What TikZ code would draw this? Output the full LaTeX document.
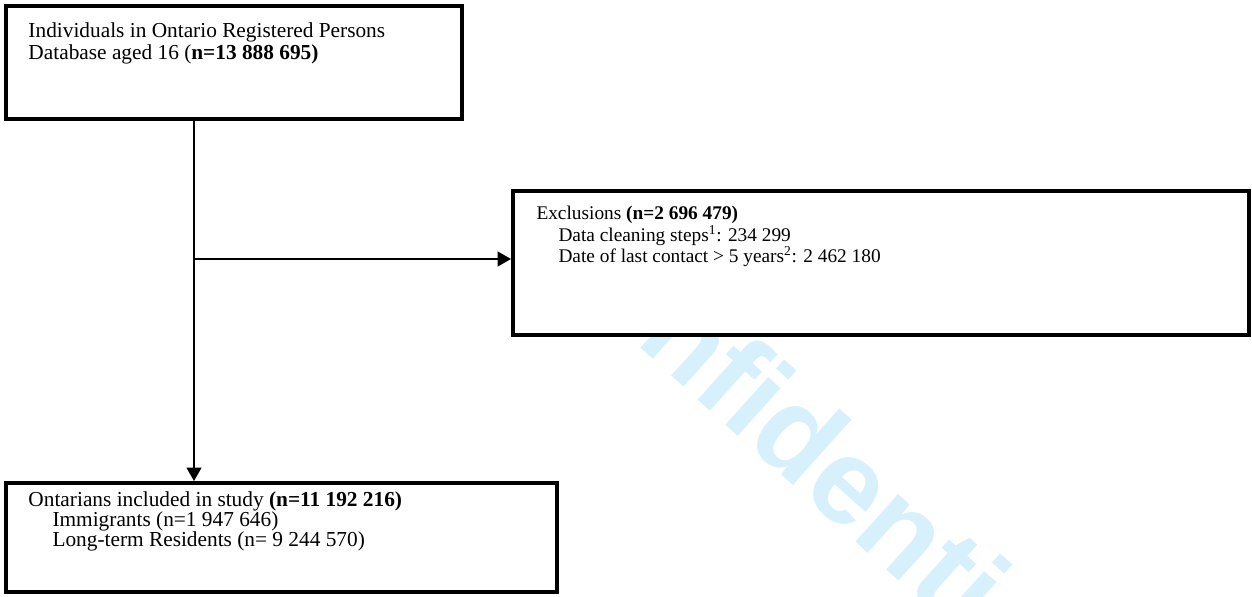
\documentclass[tikz,border=0pt]{standalone}
\usepackage{fontspec}
\setmainfont{Liberation Serif}
\newfontfamily\markfont{Liberation Sans}
\usetikzlibrary{arrows.meta}
\definecolor{markblue}{RGB}{214,240,252}
\tikzset{every picture/.style={line width=0.75pt}}
\tikzset{
  flowbox/.style={draw, fill=white, line width=3pt, inner sep=0pt},
  boxtext/.style={anchor=north west, inner sep=0pt, align=left},
  flow/.style={line width=1.5pt, -{Triangle[length=10pt,width=11pt]}},
}

\begin{document}
\begin{tikzpicture}[x=0.75pt,y=0.75pt,yscale=-1,xscale=1]
\useasboundingbox (0,0) rectangle (1252,596);

% Watermark
\node [markblue, rotate=-42, anchor=base west, inner sep=0pt, font=\markfont\bfseries\fontsize{91}{91}\selectfont] (mark) at (514,234) {Confidential: For Review Only};

%Shape: Rectangle [RPDB]
\node [flowbox, minimum width=342pt, minimum height=84.75pt] (rpdb) at (234,62) {};
%Shape: Rectangle [exclusions]
\node [flowbox, minimum width=552pt, minimum height=108pt] (excl) at (881,263) {};
%Shape: Rectangle [study cohort]
\node [flowbox, minimum width=413.25pt, minimum height=81.75pt] (study) at (281.5,537.5) {};

% Text Node
\node [boxtext, font=\fontsize{16}{17}\selectfont] (rpdbtext) at (28,22) {Individuals in Ontario Registered Persons\\Database aged 16 (\textbf{n=13 888 695)}};
% Text Node
\node [boxtext, font=\fontsize{14.5}{14.5}\selectfont] (excltext) at (536,206) {Exclusions \textbf{(n=2 696 479)}\\\hspace*{16.5pt}Data cleaning steps\textsuperscript{1}: 234 299\\\hspace*{16.5pt}Date of last contact > 5 years\textsuperscript{2}: 2 462 180};
% Text Node
\node [boxtext, font=\fontsize{16}{15}\selectfont] (studytext) at (28,491) {Ontarians included in study \textbf{(n=11 192 216)}\\\hspace*{18pt}Immigrants (n=1 947 646)\\\hspace*{18pt}Long-term Residents (n= 9 244 570)};

%Straight Lines
\coordinate (split) at (194,259);
\draw [flow] (rpdb.south -| split) -- (study.north -| split);
\draw [flow] (split) -- (excl.west |- split);

\end{tikzpicture}
\end{document}
